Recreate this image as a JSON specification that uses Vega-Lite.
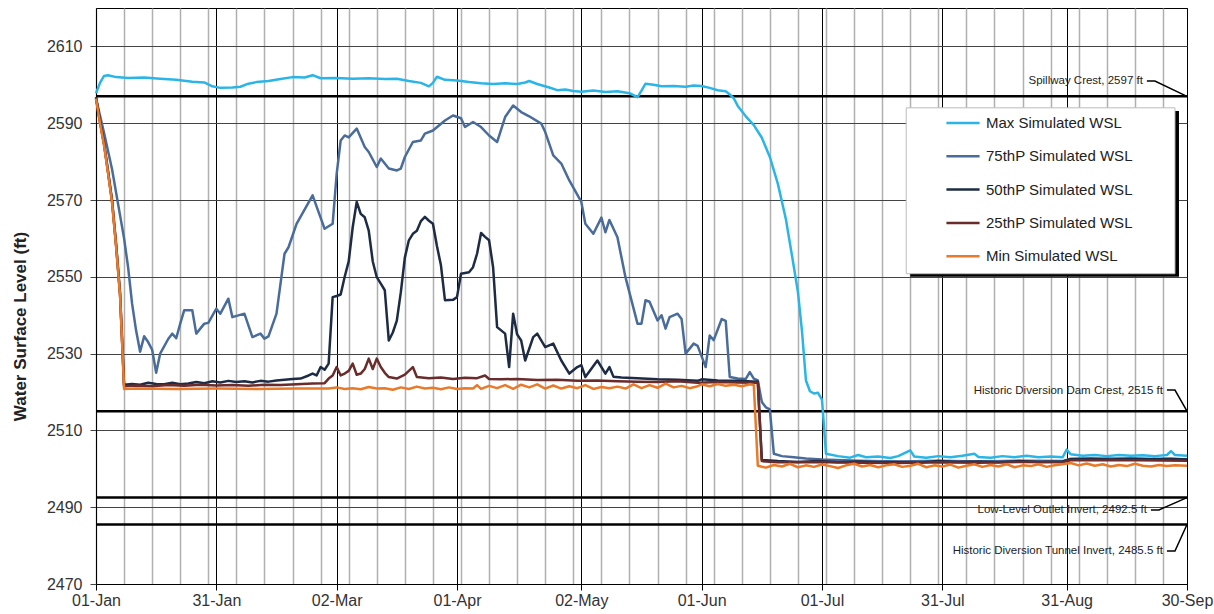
{
  "$schema": "https://vega.github.io/schema/vega-lite/v6.json",
  "width": 1091,
  "height": 576,
  "autosize": {"type": "none"},
  "padding": {"left": 96, "top": 8, "right": 27, "bottom": 30},
  "background": "white",
  "config": {
    "view": {"stroke": "black", "strokeWidth": 1},
    "font": "Liberation Sans",
    "axis": {"labelFont": "Liberation Sans", "titleFont": "Liberation Sans"}
  },
  "datasets": {
    "mx": [
      {"d":"2023-01-01","v":2597.8},{"d":"2023-01-02","v":2600.5},{"d":"2023-01-03","v":2602.3},{"d":"2023-01-04","v":2602.5},{"d":"2023-01-06","v":2602.0},{"d":"2023-01-09","v":2601.8},{"d":"2023-01-13","v":2601.9},{"d":"2023-01-17","v":2601.6},{"d":"2023-01-21","v":2601.3},{"d":"2023-01-25","v":2600.8},{"d":"2023-01-28","v":2600.6},{"d":"2023-01-30","v":2599.6},{"d":"2023-02-01","v":2599.2},{"d":"2023-02-04","v":2599.3},{"d":"2023-02-06","v":2599.5},{"d":"2023-02-08","v":2600.3},{"d":"2023-02-10","v":2600.7},{"d":"2023-02-13","v":2601.0},{"d":"2023-02-16","v":2601.5},{"d":"2023-02-19","v":2602.0},{"d":"2023-02-22","v":2601.9},{"d":"2023-02-24","v":2602.5},{"d":"2023-02-26","v":2601.7},{"d":"2023-03-02","v":2601.8},{"d":"2023-03-06","v":2601.6},{"d":"2023-03-10","v":2601.7},{"d":"2023-03-14","v":2601.5},{"d":"2023-03-17","v":2601.6},{"d":"2023-03-20","v":2601.0},{"d":"2023-03-23","v":2600.5},{"d":"2023-03-25","v":2599.6},{"d":"2023-03-26","v":2600.5},{"d":"2023-03-27","v":2602.1},{"d":"2023-03-29","v":2601.3},{"d":"2023-04-01","v":2601.1},{"d":"2023-04-04","v":2600.7},{"d":"2023-04-07","v":2600.4},{"d":"2023-04-10","v":2600.2},{"d":"2023-04-13","v":2600.4},{"d":"2023-04-16","v":2600.2},{"d":"2023-04-18","v":2600.6},{"d":"2023-04-19","v":2601.0},{"d":"2023-04-21","v":2600.2},{"d":"2023-04-24","v":2599.3},{"d":"2023-04-26","v":2598.6},{"d":"2023-04-28","v":2598.8},{"d":"2023-04-30","v":2598.4},{"d":"2023-05-02","v":2598.2},{"d":"2023-05-05","v":2598.5},{"d":"2023-05-08","v":2598.1},{"d":"2023-05-11","v":2598.3},{"d":"2023-05-14","v":2597.8},{"d":"2023-05-16","v":2596.8},{"d":"2023-05-17","v":2598.5},{"d":"2023-05-18","v":2600.3},{"d":"2023-05-20","v":2600.0},{"d":"2023-05-22","v":2599.6},{"d":"2023-05-25","v":2599.7},{"d":"2023-05-28","v":2599.5},{"d":"2023-05-30","v":2599.8},{"d":"2023-06-01","v":2599.7},{"d":"2023-06-03","v":2599.2},{"d":"2023-06-05","v":2598.6},{"d":"2023-06-07","v":2598.3},{"d":"2023-06-08","v":2597.5},{"d":"2023-06-09","v":2596.5},{"d":"2023-06-10","v":2594.5},{"d":"2023-06-12","v":2591.8},{"d":"2023-06-14","v":2589.5},{"d":"2023-06-16","v":2586.2},{"d":"2023-06-18","v":2581.2},{"d":"2023-06-20","v":2574.2},{"d":"2023-06-22","v":2565.0},{"d":"2023-06-24","v":2552.5},{"d":"2023-06-25","v":2546.0},{"d":"2023-06-26","v":2536.0},{"d":"2023-06-27","v":2523.0},{"d":"2023-06-28","v":2520.2},{"d":"2023-06-29","v":2519.6},{"d":"2023-06-30","v":2519.8},{"d":"2023-07-01","v":2518.0},{"d":"2023-07-02","v":2503.9},{"d":"2023-07-05","v":2503.3},{"d":"2023-07-08","v":2502.9},{"d":"2023-07-10","v":2503.6},{"d":"2023-07-12","v":2503.0},{"d":"2023-07-15","v":2503.2},{"d":"2023-07-18","v":2502.8},{"d":"2023-07-20","v":2503.3},{"d":"2023-07-23","v":2504.8},{"d":"2023-07-24","v":2503.2},{"d":"2023-07-27","v":2502.9},{"d":"2023-07-30","v":2503.3},{"d":"2023-08-02","v":2503.0},{"d":"2023-08-05","v":2503.4},{"d":"2023-08-08","v":2503.9},{"d":"2023-08-09","v":2503.1},{"d":"2023-08-12","v":2502.9},{"d":"2023-08-15","v":2503.3},{"d":"2023-08-18","v":2503.0},{"d":"2023-08-21","v":2503.4},{"d":"2023-08-24","v":2503.0},{"d":"2023-08-27","v":2503.2},{"d":"2023-08-30","v":2503.0},{"d":"2023-08-31","v":2505.0},{"d":"2023-09-01","v":2503.8},{"d":"2023-09-04","v":2503.4},{"d":"2023-09-07","v":2503.6},{"d":"2023-09-10","v":2503.3},{"d":"2023-09-13","v":2503.6},{"d":"2023-09-16","v":2503.4},{"d":"2023-09-19","v":2503.5},{"d":"2023-09-22","v":2503.3},{"d":"2023-09-25","v":2503.6},{"d":"2023-09-26","v":2504.6},{"d":"2023-09-27","v":2503.6},{"d":"2023-09-30","v":2503.4}
    ],
    "p75": [
      {"d":"2023-01-01","v":2596.4},{"d":"2023-01-03","v":2587.5},{"d":"2023-01-05","v":2578.0},{"d":"2023-01-07","v":2566.0},{"d":"2023-01-08","v":2560.0},{"d":"2023-01-09","v":2552.5},{"d":"2023-01-10","v":2543.0},{"d":"2023-01-11","v":2536.0},{"d":"2023-01-12","v":2530.5},{"d":"2023-01-13","v":2534.5},{"d":"2023-01-14","v":2533.0},{"d":"2023-01-15","v":2531.0},{"d":"2023-01-16","v":2525.0},{"d":"2023-01-17","v":2530.0},{"d":"2023-01-19","v":2533.8},{"d":"2023-01-20","v":2535.2},{"d":"2023-01-21","v":2534.0},{"d":"2023-01-22","v":2537.8},{"d":"2023-01-23","v":2541.3},{"d":"2023-01-25","v":2541.3},{"d":"2023-01-26","v":2535.2},{"d":"2023-01-28","v":2537.8},{"d":"2023-01-29","v":2538.0},{"d":"2023-01-31","v":2541.7},{"d":"2023-02-01","v":2540.4},{"d":"2023-02-03","v":2544.3},{"d":"2023-02-04","v":2539.5},{"d":"2023-02-07","v":2540.4},{"d":"2023-02-09","v":2534.3},{"d":"2023-02-11","v":2535.2},{"d":"2023-02-12","v":2533.9},{"d":"2023-02-13","v":2534.5},{"d":"2023-02-15","v":2540.4},{"d":"2023-02-17","v":2556.0},{"d":"2023-02-18","v":2557.7},{"d":"2023-02-20","v":2563.8},{"d":"2023-02-22","v":2567.5},{"d":"2023-02-24","v":2571.2},{"d":"2023-02-27","v":2562.5},{"d":"2023-03-01","v":2563.8},{"d":"2023-03-02","v":2576.8},{"d":"2023-03-03","v":2585.5},{"d":"2023-03-04","v":2586.8},{"d":"2023-03-05","v":2586.3},{"d":"2023-03-07","v":2588.6},{"d":"2023-03-09","v":2583.8},{"d":"2023-03-10","v":2582.5},{"d":"2023-03-12","v":2578.6},{"d":"2023-03-13","v":2580.8},{"d":"2023-03-15","v":2578.2},{"d":"2023-03-17","v":2577.7},{"d":"2023-03-18","v":2578.2},{"d":"2023-03-19","v":2581.2},{"d":"2023-03-21","v":2585.1},{"d":"2023-03-23","v":2585.5},{"d":"2023-03-24","v":2587.3},{"d":"2023-03-26","v":2588.1},{"d":"2023-03-29","v":2590.7},{"d":"2023-03-31","v":2592.0},{"d":"2023-04-02","v":2591.3},{"d":"2023-04-03","v":2589.0},{"d":"2023-04-05","v":2590.3},{"d":"2023-04-07","v":2589.0},{"d":"2023-04-09","v":2586.8},{"d":"2023-04-11","v":2585.1},{"d":"2023-04-13","v":2591.6},{"d":"2023-04-15","v":2594.6},{"d":"2023-04-17","v":2592.9},{"d":"2023-04-19","v":2591.8},{"d":"2023-04-22","v":2589.9},{"d":"2023-04-23","v":2587.7},{"d":"2023-04-25","v":2581.6},{"d":"2023-04-27","v":2579.5},{"d":"2023-04-29","v":2575.1},{"d":"2023-05-02","v":2569.5},{"d":"2023-05-03","v":2563.8},{"d":"2023-05-05","v":2561.2},{"d":"2023-05-07","v":2565.4},{"d":"2023-05-08","v":2561.6},{"d":"2023-05-09","v":2564.8},{"d":"2023-05-11","v":2560.3},{"d":"2023-05-13","v":2549.9},{"d":"2023-05-16","v":2537.8},{"d":"2023-05-17","v":2537.8},{"d":"2023-05-18","v":2543.9},{"d":"2023-05-19","v":2543.5},{"d":"2023-05-21","v":2538.6},{"d":"2023-05-22","v":2540.0},{"d":"2023-05-23","v":2536.5},{"d":"2023-05-24","v":2539.5},{"d":"2023-05-26","v":2540.4},{"d":"2023-05-27","v":2539.0},{"d":"2023-05-28","v":2530.0},{"d":"2023-05-30","v":2532.6},{"d":"2023-05-31","v":2532.0},{"d":"2023-06-02","v":2526.5},{"d":"2023-06-03","v":2534.7},{"d":"2023-06-04","v":2533.5},{"d":"2023-06-06","v":2539.0},{"d":"2023-06-07","v":2538.5},{"d":"2023-06-08","v":2523.9},{"d":"2023-06-10","v":2523.5},{"d":"2023-06-12","v":2523.4},{"d":"2023-06-13","v":2525.2},{"d":"2023-06-14","v":2523.5},{"d":"2023-06-15","v":2523.0},{"d":"2023-06-16","v":2517.4},{"d":"2023-06-17","v":2516.0},{"d":"2023-06-18","v":2515.5},{"d":"2023-06-19","v":2503.9},{"d":"2023-06-21","v":2503.3},{"d":"2023-06-24","v":2503.0},{"d":"2023-06-27","v":2502.7},{"d":"2023-07-01","v":2502.4},{"d":"2023-07-10","v":2502.1},{"d":"2023-07-20","v":2501.9},{"d":"2023-07-30","v":2502.1},{"d":"2023-08-09","v":2501.9},{"d":"2023-08-19","v":2502.1},{"d":"2023-08-30","v":2502.0},{"d":"2023-09-01","v":2502.6},{"d":"2023-09-13","v":2502.7},{"d":"2023-09-30","v":2502.5}
    ],
    "p50": [
      {"d":"2023-01-01","v":2596.8},{"d":"2023-01-02","v":2590.5},{"d":"2023-01-03","v":2584.7},{"d":"2023-01-04","v":2577.5},{"d":"2023-01-05","v":2569.9},{"d":"2023-01-06","v":2558.6},{"d":"2023-01-07","v":2545.6},{"d":"2023-01-08","v":2521.9},{"d":"2023-01-10","v":2522.1},{"d":"2023-01-12","v":2521.9},{"d":"2023-01-14","v":2522.4},{"d":"2023-01-16","v":2522.1},{"d":"2023-01-18","v":2522.0},{"d":"2023-01-20","v":2522.4},{"d":"2023-01-22","v":2522.0},{"d":"2023-01-24","v":2522.2},{"d":"2023-01-26","v":2522.6},{"d":"2023-01-28","v":2522.3},{"d":"2023-01-30","v":2522.8},{"d":"2023-02-01","v":2522.5},{"d":"2023-02-03","v":2522.9},{"d":"2023-02-05","v":2522.6},{"d":"2023-02-07","v":2522.8},{"d":"2023-02-09","v":2522.5},{"d":"2023-02-11","v":2522.9},{"d":"2023-02-13","v":2522.7},{"d":"2023-02-15","v":2523.0},{"d":"2023-02-17","v":2523.2},{"d":"2023-02-19","v":2523.4},{"d":"2023-02-21","v":2523.5},{"d":"2023-02-23","v":2524.3},{"d":"2023-02-24","v":2524.8},{"d":"2023-02-25","v":2524.3},{"d":"2023-02-26","v":2526.5},{"d":"2023-02-27","v":2525.8},{"d":"2023-02-28","v":2527.4},{"d":"2023-03-01","v":2544.7},{"d":"2023-03-02","v":2545.0},{"d":"2023-03-03","v":2545.4},{"d":"2023-03-04","v":2550.0},{"d":"2023-03-05","v":2554.0},{"d":"2023-03-06","v":2562.9},{"d":"2023-03-07","v":2569.5},{"d":"2023-03-08","v":2566.4},{"d":"2023-03-09","v":2565.5},{"d":"2023-03-10","v":2562.0},{"d":"2023-03-11","v":2554.0},{"d":"2023-03-12","v":2549.9},{"d":"2023-03-13","v":2548.2},{"d":"2023-03-14","v":2546.5},{"d":"2023-03-15","v":2533.4},{"d":"2023-03-16","v":2535.5},{"d":"2023-03-17","v":2538.6},{"d":"2023-03-18","v":2546.0},{"d":"2023-03-19","v":2555.0},{"d":"2023-03-20","v":2559.5},{"d":"2023-03-21","v":2561.2},{"d":"2023-03-22","v":2562.0},{"d":"2023-03-23","v":2564.5},{"d":"2023-03-24","v":2565.6},{"d":"2023-03-25","v":2564.6},{"d":"2023-03-26","v":2563.8},{"d":"2023-03-27","v":2558.0},{"d":"2023-03-28","v":2553.0},{"d":"2023-03-29","v":2543.9},{"d":"2023-03-31","v":2544.0},{"d":"2023-04-01","v":2544.7},{"d":"2023-04-02","v":2550.8},{"d":"2023-04-04","v":2551.2},{"d":"2023-04-05","v":2552.5},{"d":"2023-04-06","v":2556.0},{"d":"2023-04-07","v":2561.4},{"d":"2023-04-08","v":2560.4},{"d":"2023-04-09","v":2559.5},{"d":"2023-04-10","v":2552.5},{"d":"2023-04-11","v":2536.9},{"d":"2023-04-13","v":2535.2},{"d":"2023-04-14","v":2526.5},{"d":"2023-04-15","v":2540.4},{"d":"2023-04-16","v":2535.0},{"d":"2023-04-17","v":2533.4},{"d":"2023-04-18","v":2528.2},{"d":"2023-04-20","v":2534.3},{"d":"2023-04-21","v":2535.2},{"d":"2023-04-23","v":2531.7},{"d":"2023-04-25","v":2532.6},{"d":"2023-04-27","v":2528.2},{"d":"2023-04-29","v":2524.8},{"d":"2023-05-01","v":2526.5},{"d":"2023-05-02","v":2527.0},{"d":"2023-05-03","v":2523.9},{"d":"2023-05-06","v":2528.2},{"d":"2023-05-08","v":2524.8},{"d":"2023-05-09","v":2526.5},{"d":"2023-05-10","v":2524.0},{"d":"2023-05-12","v":2523.8},{"d":"2023-05-16","v":2523.6},{"d":"2023-05-21","v":2523.3},{"d":"2023-05-26","v":2523.2},{"d":"2023-05-31","v":2522.9},{"d":"2023-06-01","v":2523.3},{"d":"2023-06-05","v":2523.0},{"d":"2023-06-10","v":2522.9},{"d":"2023-06-15","v":2522.7},{"d":"2023-06-16","v":2502.3},{"d":"2023-06-20","v":2502.0},{"d":"2023-06-25","v":2501.8},{"d":"2023-06-30","v":2502.0},{"d":"2023-07-05","v":2501.7},{"d":"2023-07-10","v":2501.9},{"d":"2023-07-15","v":2501.7},{"d":"2023-07-20","v":2501.8},{"d":"2023-07-25","v":2501.6},{"d":"2023-07-30","v":2502.0},{"d":"2023-08-04","v":2501.8},{"d":"2023-08-09","v":2501.9},{"d":"2023-08-14","v":2501.7},{"d":"2023-08-19","v":2502.0},{"d":"2023-08-24","v":2501.8},{"d":"2023-08-30","v":2501.9},{"d":"2023-09-01","v":2502.5},{"d":"2023-09-06","v":2502.6},{"d":"2023-09-11","v":2502.4},{"d":"2023-09-16","v":2502.6},{"d":"2023-09-21","v":2502.5},{"d":"2023-09-26","v":2502.6},{"d":"2023-09-30","v":2502.4}
    ],
    "p25": [
      {"d":"2023-01-01","v":2596.6},{"d":"2023-01-02","v":2590.3},{"d":"2023-01-03","v":2584.6},{"d":"2023-01-04","v":2577.3},{"d":"2023-01-05","v":2569.7},{"d":"2023-01-06","v":2558.4},{"d":"2023-01-07","v":2545.4},{"d":"2023-01-08","v":2521.5},{"d":"2023-01-11","v":2521.7},{"d":"2023-01-15","v":2521.5},{"d":"2023-01-19","v":2521.8},{"d":"2023-01-23","v":2521.6},{"d":"2023-01-27","v":2521.9},{"d":"2023-01-31","v":2521.7},{"d":"2023-02-04","v":2521.8},{"d":"2023-02-08","v":2521.6},{"d":"2023-02-12","v":2521.9},{"d":"2023-02-16","v":2521.8},{"d":"2023-02-20","v":2522.0},{"d":"2023-02-24","v":2522.2},{"d":"2023-02-27","v":2522.3},{"d":"2023-02-28","v":2523.5},{"d":"2023-03-01","v":2524.3},{"d":"2023-03-02","v":2526.5},{"d":"2023-03-03","v":2524.3},{"d":"2023-03-04","v":2524.8},{"d":"2023-03-05","v":2525.5},{"d":"2023-03-06","v":2527.4},{"d":"2023-03-07","v":2524.5},{"d":"2023-03-08","v":2524.8},{"d":"2023-03-09","v":2526.0},{"d":"2023-03-10","v":2528.7},{"d":"2023-03-11","v":2526.0},{"d":"2023-03-12","v":2528.7},{"d":"2023-03-13","v":2526.5},{"d":"2023-03-14","v":2525.0},{"d":"2023-03-15","v":2523.9},{"d":"2023-03-17","v":2523.5},{"d":"2023-03-19","v":2524.5},{"d":"2023-03-21","v":2526.5},{"d":"2023-03-22","v":2523.9},{"d":"2023-03-25","v":2523.6},{"d":"2023-03-28","v":2523.8},{"d":"2023-03-31","v":2523.4},{"d":"2023-04-03","v":2523.7},{"d":"2023-04-06","v":2523.6},{"d":"2023-04-08","v":2524.3},{"d":"2023-04-09","v":2523.4},{"d":"2023-04-12","v":2523.3},{"d":"2023-04-16","v":2523.4},{"d":"2023-04-21","v":2523.1},{"d":"2023-04-26","v":2523.2},{"d":"2023-05-01","v":2522.9},{"d":"2023-05-06","v":2523.0},{"d":"2023-05-11","v":2522.8},{"d":"2023-05-16","v":2522.7},{"d":"2023-05-21","v":2522.6},{"d":"2023-05-26","v":2522.8},{"d":"2023-05-31","v":2522.4},{"d":"2023-06-05","v":2522.6},{"d":"2023-06-10","v":2522.5},{"d":"2023-06-15","v":2522.4},{"d":"2023-06-16","v":2502.0},{"d":"2023-06-20","v":2501.7},{"d":"2023-06-30","v":2501.8},{"d":"2023-07-10","v":2501.6},{"d":"2023-07-20","v":2501.5},{"d":"2023-07-30","v":2501.7},{"d":"2023-08-09","v":2501.6},{"d":"2023-08-19","v":2501.8},{"d":"2023-08-30","v":2501.7},{"d":"2023-09-01","v":2502.2},{"d":"2023-09-08","v":2502.3},{"d":"2023-09-18","v":2502.2},{"d":"2023-09-30","v":2502.1}
    ],
    "mn": [
      {"d":"2023-01-01","v":2596.4},{"d":"2023-01-02","v":2590.0},{"d":"2023-01-03","v":2584.2},{"d":"2023-01-04","v":2577.0},{"d":"2023-01-05","v":2569.3},{"d":"2023-01-06","v":2558.0},{"d":"2023-01-07","v":2545.0},{"d":"2023-01-08","v":2520.8},{"d":"2023-01-11","v":2520.9},{"d":"2023-01-21","v":2520.8},{"d":"2023-01-31","v":2520.9},{"d":"2023-02-10","v":2520.8},{"d":"2023-02-20","v":2520.9},{"d":"2023-02-28","v":2520.9},{"d":"2023-03-02","v":2521.2},{"d":"2023-03-04","v":2520.8},{"d":"2023-03-06","v":2521.0},{"d":"2023-03-08","v":2520.7},{"d":"2023-03-10","v":2521.3},{"d":"2023-03-12","v":2520.9},{"d":"2023-03-14","v":2521.0},{"d":"2023-03-16","v":2520.6},{"d":"2023-03-18","v":2521.2},{"d":"2023-03-20","v":2520.8},{"d":"2023-03-22","v":2521.4},{"d":"2023-03-24","v":2520.9},{"d":"2023-03-26","v":2521.1},{"d":"2023-03-28","v":2520.7},{"d":"2023-03-30","v":2521.2},{"d":"2023-04-01","v":2520.8},{"d":"2023-04-03","v":2521.0},{"d":"2023-04-05","v":2520.9},{"d":"2023-04-06","v":2521.8},{"d":"2023-04-07","v":2520.8},{"d":"2023-04-09","v":2521.6},{"d":"2023-04-11","v":2521.0},{"d":"2023-04-13","v":2521.8},{"d":"2023-04-15","v":2520.8},{"d":"2023-04-17","v":2521.9},{"d":"2023-04-19","v":2521.2},{"d":"2023-04-21","v":2522.0},{"d":"2023-04-23","v":2520.9},{"d":"2023-04-25","v":2521.7},{"d":"2023-04-27","v":2520.9},{"d":"2023-04-29","v":2521.5},{"d":"2023-05-01","v":2521.0},{"d":"2023-05-03","v":2521.8},{"d":"2023-05-05","v":2520.8},{"d":"2023-05-07","v":2521.3},{"d":"2023-05-09","v":2521.0},{"d":"2023-05-11","v":2521.4},{"d":"2023-05-13","v":2520.9},{"d":"2023-05-15","v":2522.0},{"d":"2023-05-17","v":2521.0},{"d":"2023-05-19","v":2521.8},{"d":"2023-05-21","v":2521.1},{"d":"2023-05-23","v":2522.2},{"d":"2023-05-25","v":2521.2},{"d":"2023-05-27","v":2521.6},{"d":"2023-05-29","v":2521.0},{"d":"2023-05-31","v":2521.5},{"d":"2023-06-01","v":2522.0},{"d":"2023-06-03","v":2521.5},{"d":"2023-06-05","v":2522.1},{"d":"2023-06-07","v":2521.6},{"d":"2023-06-09","v":2521.9},{"d":"2023-06-11","v":2521.5},{"d":"2023-06-13","v":2522.0},{"d":"2023-06-14","v":2521.8},{"d":"2023-06-15","v":2500.8},{"d":"2023-06-17","v":2500.3},{"d":"2023-06-19","v":2501.0},{"d":"2023-06-21","v":2500.6},{"d":"2023-06-23","v":2501.3},{"d":"2023-06-25","v":2500.4},{"d":"2023-06-27","v":2500.9},{"d":"2023-06-29","v":2500.5},{"d":"2023-07-01","v":2501.1},{"d":"2023-07-03","v":2500.7},{"d":"2023-07-05","v":2500.2},{"d":"2023-07-07","v":2500.9},{"d":"2023-07-09","v":2501.3},{"d":"2023-07-11","v":2500.6},{"d":"2023-07-13","v":2501.0},{"d":"2023-07-15","v":2500.4},{"d":"2023-07-17","v":2500.9},{"d":"2023-07-19","v":2501.2},{"d":"2023-07-21","v":2500.5},{"d":"2023-07-23","v":2500.8},{"d":"2023-07-25","v":2501.3},{"d":"2023-07-27","v":2500.4},{"d":"2023-07-29","v":2500.9},{"d":"2023-07-31","v":2500.6},{"d":"2023-08-02","v":2501.1},{"d":"2023-08-04","v":2500.3},{"d":"2023-08-06","v":2500.8},{"d":"2023-08-08","v":2501.2},{"d":"2023-08-10","v":2500.5},{"d":"2023-08-12","v":2501.0},{"d":"2023-08-14","v":2500.6},{"d":"2023-08-16","v":2501.2},{"d":"2023-08-18","v":2500.4},{"d":"2023-08-20","v":2500.9},{"d":"2023-08-22","v":2500.7},{"d":"2023-08-24","v":2501.2},{"d":"2023-08-26","v":2500.5},{"d":"2023-08-28","v":2500.9},{"d":"2023-08-30","v":2501.2},{"d":"2023-09-01","v":2501.5},{"d":"2023-09-03","v":2500.9},{"d":"2023-09-05","v":2501.4},{"d":"2023-09-07","v":2500.8},{"d":"2023-09-09","v":2501.2},{"d":"2023-09-11","v":2500.6},{"d":"2023-09-13","v":2501.0},{"d":"2023-09-15","v":2500.7},{"d":"2023-09-17","v":2501.3},{"d":"2023-09-19","v":2500.8},{"d":"2023-09-21","v":2500.6},{"d":"2023-09-23","v":2501.0},{"d":"2023-09-25","v":2500.7},{"d":"2023-09-27","v":2500.9},{"d":"2023-09-30","v":2500.8}
    ],
    "refs": [{"v":2597},{"v":2515},{"v":2492.5},{"v":2485.5}],
    "notes": [
      {"label":"Spillway Crest, 2597 ft","d":"2023-09-19","v":2601.0},
      {"label":"Historic Diversion Dam Crest, 2515 ft","d":"2023-09-24","v":2520.3},
      {"label":"Low-Level Outlet Invert, 2492.5 ft","d":"2023-09-20","v":2489.2},
      {"label":"Historic Diversion Tunnel Invert, 2485.5 ft","d":"2023-09-24","v":2478.5}
    ],
    "leaders": [
      {"g":"a","d":"2023-09-20","v":2601.0},{"g":"a","d":"2023-09-22","v":2601.0},{"g":"a","d":"2023-09-30","v":2597.0},
      {"g":"b","d":"2023-09-25","v":2520.5},{"g":"b","d":"2023-09-27","v":2520.5},{"g":"b","d":"2023-09-30","v":2515.0},
      {"g":"c","d":"2023-09-21","v":2489.3},{"g":"c","d":"2023-09-23","v":2489.3},{"g":"c","d":"2023-09-30","v":2492.5},
      {"g":"d","d":"2023-09-25","v":2478.6},{"g":"d","d":"2023-09-27","v":2478.6},{"g":"d","d":"2023-09-30","v":2485.5}
    ]
  },
  "resolve": {"axis": {"x": "independent"}},
  "layer": [
    {
      "data": {"values": [{"d1":"2023-07-23","d2":"2023-09-28","v1":2593.2,"v2":2550.0}]},
      "mark": {"type": "rect", "color": "black"},
      "encoding": {
        "x": {"field": "d1", "type": "temporal",
          "scale": {"type": "utc", "nice": false, "domain": [{"year":2023,"month":1,"date":1,"utc":true},{"year":2023,"month":9,"date":30,"utc":true}]},
          "axis": {"orient": "top", "tickCount": "week", "labels": false, "ticks": false, "domain": false, "grid": true, "gridColor": "#b0b0b0", "gridWidth": 1.5, "title": null}},
        "x2": {"field": "d2"},
        "y": {"field": "v1", "type": "quantitative",
          "scale": {"domain": [2470, 2620], "nice": false, "zero": false},
          "axis": {"values": [2470,2490,2510,2530,2550,2570,2590,2610], "format": "d", "grid": true, "gridColor": "#444", "gridWidth": 1, "tickColor": "#444", "tickSize": 6, "domainColor": "black", "labelFontSize": 16, "labelColor": "#333", "labelPadding": 8, "title": "Water Surface Level (ft)", "titleFontSize": 17, "titleFontWeight": "bold", "titleColor": "#222", "titleX": -76, "titleY": 318, "titleAngle": 270, "titleAlign": "center", "titleBaseline": "middle"}},
        "y2": {"field": "v2"}
      }
    },
    {
      "data": {"values": [{"d1":"2023-07-22","d2":"2023-09-27","v1":2594.0,"v2":2550.8}]},
      "mark": {"type": "rect", "fill": "white", "stroke": "#bbbbbb", "strokeWidth": 1},
      "encoding": {
        "x": {"field": "d1", "type": "temporal", "axis": null},
        "x2": {"field": "d2"},
        "y": {"field": "v1", "type": "quantitative"},
        "y2": {"field": "v2"}
      }
    },
    {
      "data": {"name": "refs"},
      "mark": {"type": "rule", "color": "black", "strokeWidth": 2.5},
      "encoding": {"y": {"field": "v", "type": "quantitative"}}
    },
    {
      "data": {"name": "mx"},
      "mark": {"type": "line", "strokeWidth": 2.5, "strokeJoin": "round"},
      "encoding": {
        "x": {"field": "d", "type": "temporal",
          "axis": {"values": [{"year":2023,"month":1,"date":1,"utc":true},{"year":2023,"month":1,"date":31,"utc":true},{"year":2023,"month":3,"date":2,"utc":true},{"year":2023,"month":4,"date":1,"utc":true},{"year":2023,"month":5,"date":2,"utc":true},{"year":2023,"month":6,"date":1,"utc":true},{"year":2023,"month":7,"date":1,"utc":true},{"year":2023,"month":7,"date":31,"utc":true},{"year":2023,"month":8,"date":31,"utc":true},{"year":2023,"month":9,"date":30,"utc":true}],
            "labelExpr": "utcFormat(datum.value, '%d-%b')", "grid": true, "gridColor": "black", "gridWidth": 1, "tickColor": "black", "tickSize": 6, "domainColor": "black", "labelFontSize": 16, "labelColor": "#333", "labelPadding": 2, "labelFlush": false, "labelOverlap": false, "title": null}},
        "y": {"field": "v", "type": "quantitative"},
        "color": {"datum": "Max Simulated WSL", "type": "nominal",
          "scale": {"domain": ["Max Simulated WSL","75thP Simulated WSL","50thP Simulated WSL","25thP Simulated WSL","Min Simulated WSL"], "range": ["#2bb5e6","#4a6c9b","#1d2b45","#6a2b2b","#e87a2a"]},
          "legend": {"orient": "none", "legendX": 849, "legendY": 97, "title": null, "symbolType": "stroke", "symbolSize": 1100, "symbolStrokeWidth": 2.5, "labelFontSize": 15, "labelFont": "Liberation Sans", "labelColor": "#222", "labelOffset": 5, "rowPadding": 7.3, "padding": 0, "labelLimit": 300}}
      }
    },
    {
      "data": {"name": "p75"},
      "mark": {"type": "line", "strokeWidth": 2.5, "strokeJoin": "round"},
      "encoding": {
        "x": {"field": "d", "type": "temporal", "axis": null},
        "y": {"field": "v", "type": "quantitative"},
        "color": {"datum": "75thP Simulated WSL", "type": "nominal"}
      }
    },
    {
      "data": {"name": "p50"},
      "mark": {"type": "line", "strokeWidth": 2.5, "strokeJoin": "round"},
      "encoding": {
        "x": {"field": "d", "type": "temporal", "axis": null},
        "y": {"field": "v", "type": "quantitative"},
        "color": {"datum": "50thP Simulated WSL", "type": "nominal"}
      }
    },
    {
      "data": {"name": "p25"},
      "mark": {"type": "line", "strokeWidth": 2.5, "strokeJoin": "round"},
      "encoding": {
        "x": {"field": "d", "type": "temporal", "axis": null},
        "y": {"field": "v", "type": "quantitative"},
        "color": {"datum": "25thP Simulated WSL", "type": "nominal"}
      }
    },
    {
      "data": {"name": "mn"},
      "mark": {"type": "line", "strokeWidth": 2.5, "strokeJoin": "round"},
      "encoding": {
        "x": {"field": "d", "type": "temporal", "axis": null},
        "y": {"field": "v", "type": "quantitative"},
        "color": {"datum": "Min Simulated WSL", "type": "nominal"}
      }
    },
    {
      "data": {"name": "leaders"},
      "mark": {"type": "line", "color": "black", "strokeWidth": 1.5},
      "encoding": {
        "x": {"field": "d", "type": "temporal", "axis": null},
        "y": {"field": "v", "type": "quantitative"},
        "detail": {"field": "g", "type": "nominal"}
      }
    },
    {
      "data": {"name": "notes"},
      "mark": {"type": "text", "align": "right", "baseline": "middle", "font": "Liberation Sans", "fontSize": 11.5, "color": "#222"},
      "encoding": {
        "x": {"field": "d", "type": "temporal", "axis": null},
        "y": {"field": "v", "type": "quantitative"},
        "text": {"field": "label", "type": "nominal"}
      }
    }
  ]
}
